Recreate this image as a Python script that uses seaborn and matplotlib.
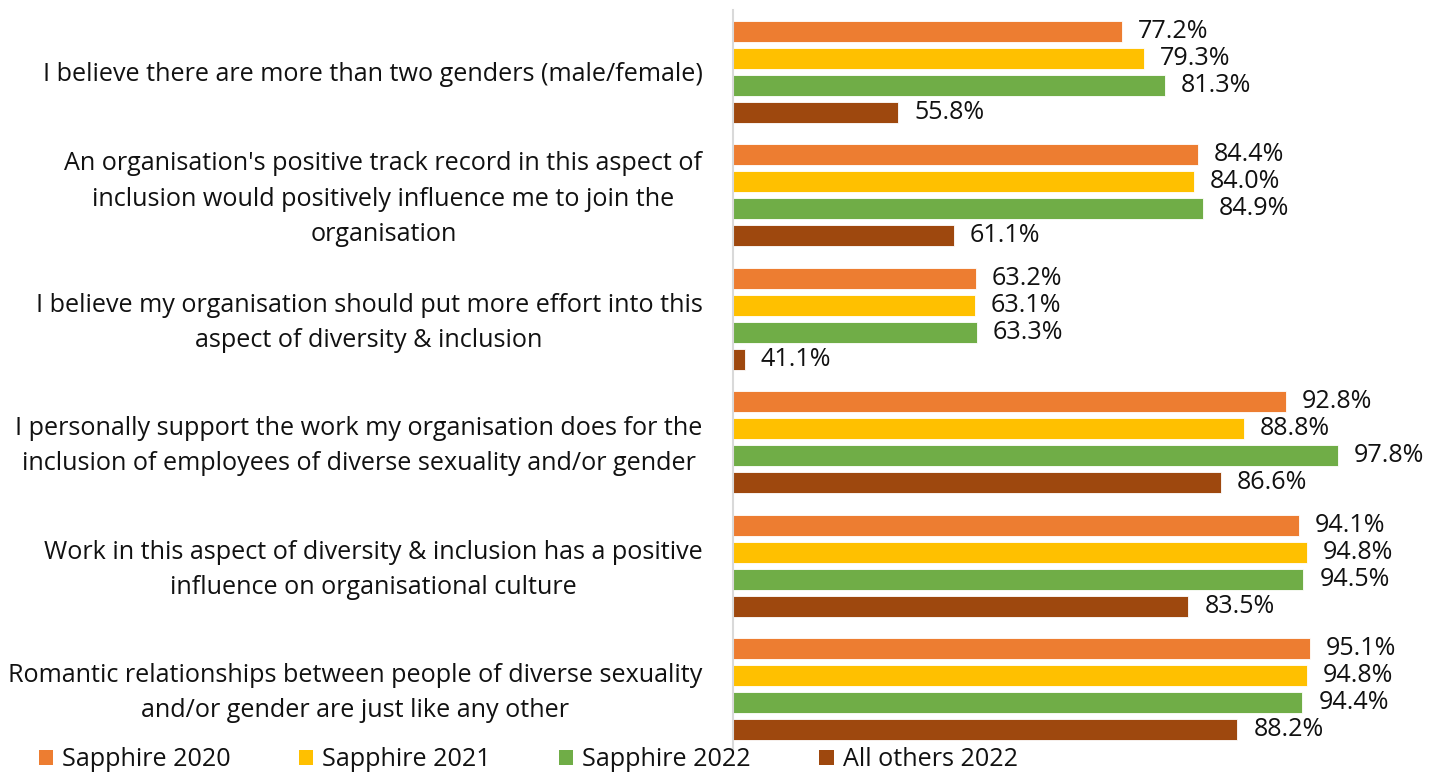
import matplotlib
matplotlib.use("Agg")
import matplotlib.pyplot as plt
import matplotlib.transforms as mtransforms
import seaborn as sns
import pandas as pd
from matplotlib.patches import Patch

# Survey statements (top to bottom)
categories = [
    "I believe there are more than two genders (male/female)",
    "An organisation's positive track record in this aspect of\ninclusion would positively influence me to join the\norganisation",
    "I believe my organisation should put more effort into this\naspect of diversity & inclusion",
    "I personally support the work my organisation does for the\ninclusion of employees of diverse sexuality and/or gender",
    "Work in this aspect of diversity & inclusion has a positive\ninfluence on organisational culture",
    "Romantic relationships between people of diverse sexuality\nand/or gender are just like any other",
]

series_names = ["Sapphire 2020", "Sapphire 2021", "Sapphire 2022", "All others 2022"]
sapphire_2020 = [77.2, 84.4, 63.2, 92.8, 94.1, 95.1]
sapphire_2021 = [79.3, 84.0, 63.1, 88.8, 94.8, 94.8]
sapphire_2022 = [81.3, 84.9, 63.3, 97.8, 94.5, 94.4]
all_others_2022 = [55.8, 61.1, 41.1, 86.6, 83.5, 88.2]

colors = ["#ED7D31", "#FFC000", "#70AD47", "#9E480E"]

rows = []
for name, vals in zip(series_names,
                      [sapphire_2020, sapphire_2021, sapphire_2022, all_others_2022]):
    for cat, v in zip(categories, vals):
        rows.append({"statement": cat, "series": name, "pct": v})
df = pd.DataFrame(rows)

sns.set_theme(style="white")
plt.rcParams["font.family"] = ["Open Sans", "DejaVu Sans"]

FS = 18.1

fig = plt.figure(figsize=(14.42, 7.74), dpi=100)
ax = fig.add_axes([733 / 1442, 1 - 751 / 774, (1361 - 733) / 1442, (751 - 10) / 774])

sns.barplot(data=df, y="statement", x="pct", hue="series", order=categories,
            hue_order=series_names, palette=colors, orient="h",
            width=0.875, gap=0.22, saturation=1, legend=False, ax=ax,
            edgecolor="white", linewidth=0.6)

ax.set_xlim(40, 100)
ax.set_xlabel("")
ax.set_ylabel("")
ax.set_xticks([])

for cont in ax.containers:
    ax.bar_label(cont, fmt="%.1f%%", padding=11.5, fontsize=FS, color="#111111")

for s in ["top", "right", "bottom"]:
    ax.spines[s].set_visible(False)
ax.spines["left"].set_color("#D9D9D9")
ax.spines["left"].set_linewidth(1.5)

ax.tick_params(axis="y", length=0, pad=22, labelsize=FS, labelcolor="#111111")
nudge = mtransforms.ScaledTranslation(0, -0.04, fig.dpi_scale_trans)
for lbl in ax.get_yticklabels():
    lbl.set_multialignment("center")
    lbl.set_linespacing(1.55)
    if "\n" in lbl.get_text():
        # centre the wrapped block on the bar group
        lbl.set_verticalalignment("center")
        lbl.set_transform(lbl.get_transform() + nudge)

handles = [Patch(facecolor=c, edgecolor="none") for c in colors]
fig.legend(handles, series_names, loc="center left", bbox_to_anchor=(29 / 1442, 1 - 760 / 774),
           ncol=4, frameon=False, fontsize=FS, handlelength=0.56, handleheight=0.56,
           handletextpad=0.36, columnspacing=2.72, labelcolor="#111111",
           borderaxespad=0)

fig.savefig("out.png", dpi=100)
